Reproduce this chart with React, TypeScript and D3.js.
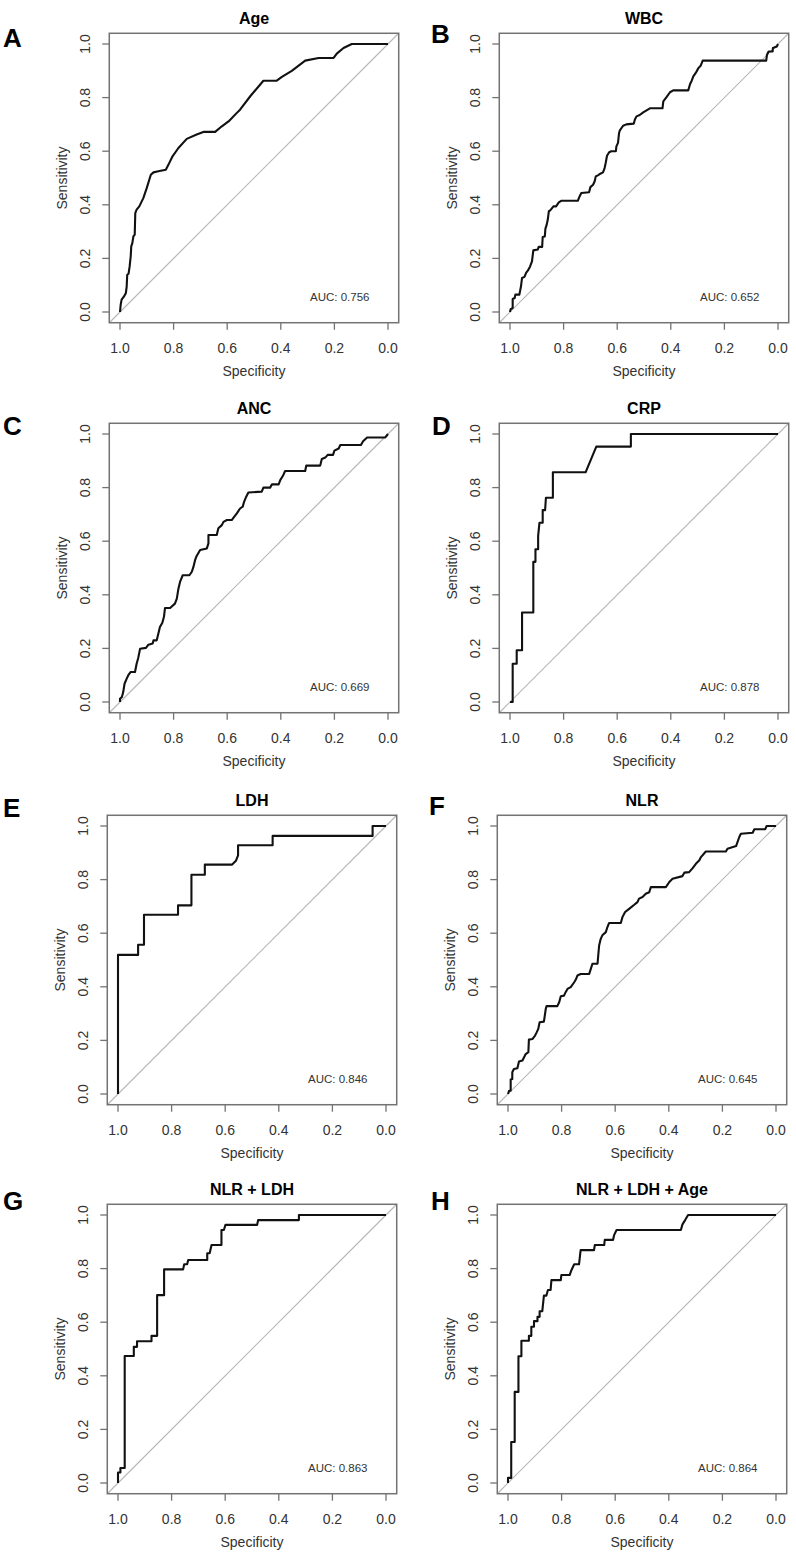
import React from "react";
import * as d3 from "d3";

// ---------- data (specificity / sensitivity pairs) ----------
const ageSpec = [1.0, 0.9975, 0.994, 0.985, 0.978, 0.975, 0.973, 0.968, 0.964, 0.96, 0.958, 0.954, 0.95, 0.945, 0.943, 0.938, 0.928, 0.913, 0.9, 0.885, 0.875, 0.857, 0.829, 0.819, 0.804, 0.782, 0.751, 0.714, 0.689, 0.645, 0.62, 0.595, 0.564, 0.552, 0.514, 0.465, 0.415, 0.396, 0.359, 0.309, 0.259, 0.203, 0.191, 0.166, 0.135, 0.0];
const ageSens = [0.0, 0.027, 0.046, 0.058, 0.071, 0.096, 0.139, 0.143, 0.17, 0.208, 0.245, 0.257, 0.282, 0.289, 0.369, 0.382, 0.394, 0.425, 0.463, 0.512, 0.521, 0.525, 0.531, 0.55, 0.581, 0.612, 0.646, 0.662, 0.672, 0.672, 0.693, 0.711, 0.743, 0.755, 0.805, 0.863, 0.863, 0.877, 0.9, 0.938, 0.948, 0.948, 0.964, 0.985, 1.0, 1.0];

const wbcSpec = [1.0, 0.9975, 0.99, 0.99, 0.9825, 0.98, 0.965, 0.959, 0.955, 0.946, 0.94, 0.933, 0.925, 0.918, 0.913, 0.896, 0.893, 0.88, 0.878, 0.87, 0.868, 0.863, 0.859, 0.855, 0.85, 0.846, 0.838, 0.828, 0.818, 0.809, 0.747, 0.74, 0.734, 0.705, 0.7, 0.69, 0.684, 0.68, 0.672, 0.663, 0.653, 0.647, 0.643, 0.638, 0.63, 0.622, 0.605, 0.603, 0.597, 0.593, 0.59, 0.578, 0.566, 0.538, 0.534, 0.528, 0.516, 0.503, 0.478, 0.431, 0.428, 0.416, 0.403, 0.391, 0.335, 0.328, 0.322, 0.316, 0.307, 0.297, 0.288, 0.281, 0.044, 0.041, 0.035, 0.02, 0.019, 0.004, 0.0];
const wbcSens = [0.0, 0.011, 0.015, 0.0485, 0.052, 0.065, 0.065, 0.096, 0.127, 0.131, 0.146, 0.155, 0.17, 0.189, 0.23, 0.233, 0.243, 0.243, 0.28, 0.282, 0.31, 0.326, 0.345, 0.376, 0.379, 0.384, 0.394, 0.394, 0.409, 0.415, 0.415, 0.432, 0.444, 0.447, 0.466, 0.475, 0.488, 0.506, 0.51, 0.516, 0.521, 0.537, 0.556, 0.583, 0.596, 0.6, 0.6, 0.618, 0.631, 0.668, 0.678, 0.695, 0.7, 0.703, 0.718, 0.73, 0.735, 0.745, 0.76, 0.76, 0.786, 0.802, 0.82, 0.827, 0.827, 0.851, 0.863, 0.879, 0.892, 0.91, 0.92, 0.938, 0.938, 0.96, 0.972, 0.972, 0.985, 0.991, 1.0];

const ancSpec = [1.0, 1.0, 0.993, 0.988, 0.983, 0.975, 0.969, 0.96, 0.944, 0.938, 0.932, 0.925, 0.903, 0.894, 0.878, 0.875, 0.863, 0.857, 0.851, 0.842, 0.836, 0.832, 0.813, 0.795, 0.788, 0.782, 0.776, 0.766, 0.741, 0.732, 0.726, 0.72, 0.714, 0.701, 0.676, 0.67, 0.67, 0.639, 0.633, 0.62, 0.614, 0.601, 0.583, 0.577, 0.564, 0.552, 0.542, 0.537, 0.529, 0.521, 0.471, 0.465, 0.44, 0.433, 0.408, 0.402, 0.392, 0.384, 0.309, 0.305, 0.253, 0.247, 0.234, 0.225, 0.205, 0.2, 0.184, 0.178, 0.101, 0.093, 0.078, 0.01, 0.0];
const ancSens = [0.0, 0.012, 0.019, 0.037, 0.068, 0.087, 0.1, 0.112, 0.112, 0.143, 0.164, 0.199, 0.202, 0.214, 0.218, 0.23, 0.23, 0.255, 0.28, 0.296, 0.318, 0.351, 0.351, 0.367, 0.386, 0.423, 0.448, 0.473, 0.473, 0.486, 0.504, 0.529, 0.545, 0.567, 0.573, 0.592, 0.623, 0.623, 0.648, 0.66, 0.672, 0.679, 0.679, 0.687, 0.704, 0.722, 0.729, 0.747, 0.766, 0.782, 0.785, 0.8, 0.8, 0.812, 0.812, 0.828, 0.844, 0.862, 0.862, 0.882, 0.882, 0.907, 0.912, 0.922, 0.922, 0.938, 0.946, 0.959, 0.959, 0.973, 0.987, 0.987, 1.0];

const crpSpec = [1.0, 0.99, 0.99, 0.975, 0.975, 0.955, 0.955, 0.913, 0.913, 0.905, 0.905, 0.895, 0.895, 0.89, 0.878, 0.878, 0.869, 0.866, 0.84, 0.84, 0.718, 0.678, 0.549, 0.549, 0.0];
const crpSens = [0.0, 0.0, 0.143, 0.143, 0.193, 0.193, 0.334, 0.334, 0.523, 0.523, 0.57, 0.57, 0.62, 0.669, 0.669, 0.716, 0.716, 0.762, 0.762, 0.857, 0.857, 0.953, 0.953, 1.0, 1.0];

const ldhSpec = [1.0, 1.0, 0.925, 0.925, 0.903, 0.903, 0.776, 0.776, 0.726, 0.726, 0.676, 0.676, 0.574, 0.56, 0.552, 0.552, 0.423, 0.423, 0.05, 0.05, 0.0];
const ldhSens = [0.0, 0.519, 0.519, 0.557, 0.557, 0.669, 0.669, 0.704, 0.704, 0.818, 0.818, 0.856, 0.856, 0.87, 0.89, 0.928, 0.928, 0.963, 0.963, 1.0, 1.0];

const nlrSpec = [1.0, 0.996, 0.99, 0.99, 0.984, 0.984, 0.978, 0.965, 0.959, 0.946, 0.94, 0.934, 0.924, 0.922, 0.909, 0.899, 0.893, 0.887, 0.882, 0.866, 0.859, 0.856, 0.816, 0.809, 0.803, 0.791, 0.785, 0.778, 0.766, 0.753, 0.747, 0.741, 0.729, 0.697, 0.691, 0.685, 0.666, 0.66, 0.654, 0.648, 0.635, 0.629, 0.623, 0.579, 0.573, 0.563, 0.548, 0.529, 0.517, 0.511, 0.498, 0.486, 0.473, 0.467, 0.411, 0.398, 0.386, 0.349, 0.342, 0.324, 0.311, 0.299, 0.286, 0.28, 0.262, 0.187, 0.181, 0.149, 0.137, 0.131, 0.087, 0.081, 0.04, 0.035, 0.0];
const nlrSens = [0.0, 0.012, 0.012, 0.054, 0.056, 0.081, 0.093, 0.096, 0.121, 0.125, 0.137, 0.149, 0.156, 0.203, 0.205, 0.218, 0.23, 0.243, 0.268, 0.27, 0.318, 0.328, 0.328, 0.342, 0.365, 0.367, 0.38, 0.392, 0.399, 0.417, 0.427, 0.442, 0.448, 0.448, 0.467, 0.486, 0.486, 0.554, 0.579, 0.592, 0.604, 0.623, 0.638, 0.638, 0.66, 0.679, 0.691, 0.706, 0.716, 0.729, 0.735, 0.747, 0.753, 0.772, 0.772, 0.791, 0.803, 0.813, 0.826, 0.828, 0.843, 0.859, 0.872, 0.884, 0.905, 0.905, 0.915, 0.925, 0.959, 0.971, 0.975, 0.988, 0.988, 1.0, 1.0];

const nlrLdhSpec = [1.0, 1.0, 0.991, 0.991, 0.975, 0.975, 0.941, 0.941, 0.929, 0.929, 0.875, 0.875, 0.854, 0.854, 0.828, 0.828, 0.757, 0.753, 0.742, 0.738, 0.667, 0.667, 0.658, 0.651, 0.614, 0.614, 0.605, 0.599, 0.481, 0.477, 0.325, 0.325, 0.0];
const nlrLdhSens = [0.0, 0.039, 0.039, 0.056, 0.056, 0.474, 0.474, 0.508, 0.508, 0.529, 0.529, 0.549, 0.549, 0.701, 0.701, 0.797, 0.797, 0.816, 0.816, 0.832, 0.832, 0.857, 0.857, 0.888, 0.888, 0.944, 0.944, 0.963, 0.963, 0.981, 0.981, 1.0, 1.0];

const nlrLdhAgeSpec = [1.0, 1.0, 0.988, 0.988, 0.975, 0.975, 0.961, 0.961, 0.95, 0.95, 0.922, 0.922, 0.913, 0.913, 0.903, 0.903, 0.89, 0.89, 0.882, 0.882, 0.872, 0.866, 0.857, 0.851, 0.841, 0.838, 0.803, 0.801, 0.77, 0.763, 0.753, 0.735, 0.729, 0.679, 0.676, 0.641, 0.639, 0.608, 0.604, 0.595, 0.355, 0.349, 0.339, 0.328, 0.0];
const nlrLdhAgeSens = [0.0, 0.019, 0.019, 0.153, 0.153, 0.34, 0.34, 0.473, 0.473, 0.531, 0.531, 0.549, 0.549, 0.583, 0.583, 0.604, 0.604, 0.62, 0.62, 0.641, 0.641, 0.699, 0.699, 0.72, 0.72, 0.757, 0.757, 0.776, 0.776, 0.795, 0.816, 0.816, 0.869, 0.869, 0.888, 0.888, 0.907, 0.907, 0.925, 0.944, 0.944, 0.965, 0.981, 1.0, 1.0];

const titles = ["Age", "WBC", "ANC", "CRP", "LDH", "NLR", "NLR + LDH", "NLR + LDH + Age"];
const letters = ["A", "B", "C", "D", "E", "F", "G", "H"];
const aucValues = ["0.756", "0.652", "0.669", "0.878", "0.846", "0.645", "0.863", "0.864"];
const specSeries = [ageSpec, wbcSpec, ancSpec, crpSpec, ldhSpec, nlrSpec, nlrLdhSpec, nlrLdhAgeSpec];
const sensSeries = [ageSens, wbcSens, ancSens, crpSens, ldhSens, nlrSens, nlrLdhSens, nlrLdhAgeSens];
const tickValues = [1.0, 0.8, 0.6, 0.4, 0.2, 0.0];

// ---------- layout ----------
const PLOT = 268;
const panelOrigins = [
  { x: 120, y: 44, lx: 3, ly: 47 },
  { x: 510, y: 44, lx: 431, ly: 43 },
  { x: 120, y: 434, lx: 3, ly: 435 },
  { x: 510, y: 434, lx: 432, ly: 435 },
  { x: 118, y: 826, lx: 3, ly: 817 },
  { x: 508, y: 826, lx: 429, ly: 815 },
  { x: 118, y: 1215, lx: 3, ly: 1210 },
  { x: 508, y: 1215, lx: 431, ly: 1210 },
];

const FONT = "Liberation Sans, Arial, Helvetica, sans-serif";
const TEXT = "#333";
const AXIS = "#737373";

function Panel({ i }: { i: number }) {
  const o = panelOrigins[i];
  const x = d3.scaleLinear().domain([1, 0]).range([o.x, o.x + PLOT]);
  const y = d3.scaleLinear().domain([0, 1]).range([o.y + PLOT, o.y]);
  const pts: [number, number][] = specSeries[i].map((s, k) => [s, sensSeries[i][k]]);
  const line = d3
    .line<[number, number]>()
    .x((d) => x(d[0]))
    .y((d) => y(d[1]));
  const bx0 = x(1.04), bx1 = x(-0.04), by0 = y(-0.04), by1 = y(1.04);
  const cx = (bx0 + bx1) / 2;
  return (
    <g>
      <text x={o.lx} y={o.ly} fontFamily={FONT} fontWeight="bold" fontSize={26} fill="#000">
        {letters[i]}
      </text>
      <text x={cx} y={o.y - 20} textAnchor="middle" fontFamily={FONT} fontWeight="bold" fontSize={16} fill="#000">
        {titles[i]}
      </text>
      {/* diagonal */}
      <line x1={bx0} y1={by0} x2={bx1} y2={by1} stroke="#b8b8b8" strokeWidth={1.2} />
      {/* ROC curve */}
      <path d={line(pts) || ""} fill="none" stroke="#111" strokeWidth={2.1} strokeLinejoin="round" />
      {/* box */}
      <rect x={bx0} y={by1} width={bx1 - bx0} height={by0 - by1} fill="none" stroke={AXIS} strokeWidth={1.5} />
      {/* x axis ticks */}
      {tickValues.map((t) => (
        <g key={"x" + t}>
          <line x1={x(t)} x2={x(t)} y1={by0} y2={by0 + 7} stroke={AXIS} strokeWidth={1.3} />
          <text x={x(t)} y={by0 + 30} textAnchor="middle" fontFamily={FONT} fontSize={14} fill={TEXT}>
            {t.toFixed(1)}
          </text>
        </g>
      ))}
      {/* y axis ticks */}
      {tickValues.map((t) => (
        <g key={"y" + t}>
          <line x1={bx0 - 7} x2={bx0} y1={y(t)} y2={y(t)} stroke={AXIS} strokeWidth={1.3} />
          <text
            transform={`translate(${o.x - 30},${y(t)}) rotate(-90)`}
            textAnchor="middle"
            fontFamily={FONT}
            fontSize={14}
            fill={TEXT}
          >
            {t.toFixed(1)}
          </text>
        </g>
      ))}
      <text x={cx} y={o.y + PLOT + 64} textAnchor="middle" fontFamily={FONT} fontSize={14} fill={TEXT}>
        Specificity
      </text>
      <text
        transform={`translate(${o.x - 53},${(by0 + by1) / 2}) rotate(-90)`}
        textAnchor="middle"
        fontFamily={FONT}
        fontSize={14}
        fill={TEXT}
      >
        Sensitivity
      </text>
      <text x={x(0.18)} y={y(0.055) + 4} textAnchor="middle" fontFamily={FONT} fontSize={11.5} fill={TEXT}>
        {"AUC: " + aucValues[i]}
      </text>
    </g>
  );
}

export default function App() {
  return (
    <svg
      width={796}
      height={1560}
      viewBox="0 0 796 1560"
      style={{ position: "absolute", left: 0, top: 0, background: "#fff" }}
    >
      <rect x={0} y={0} width={796} height={1560} fill="#fff" />
      {titles.map((_, i) => (
        <Panel key={i} i={i} />
      ))}
    </svg>
  );
}
